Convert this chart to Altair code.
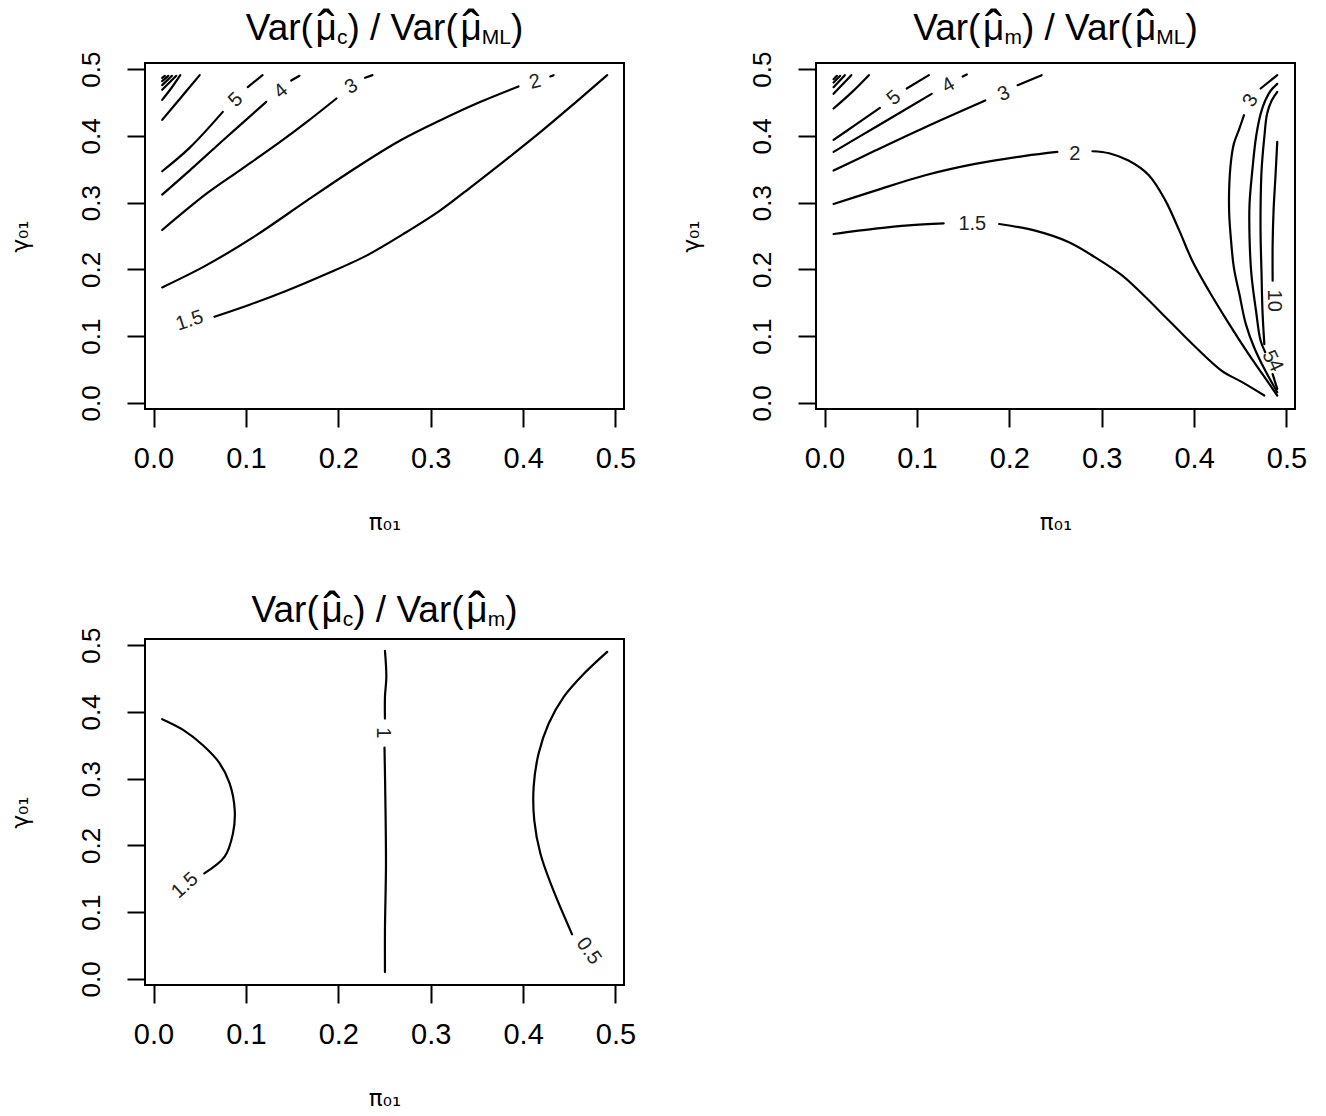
import altair as alt
import pandas as pd

# ---------------- shared axis definitions ----------------
TICK_VALUES = [0.0, 0.1, 0.2, 0.3, 0.4, 0.5]
AXIS_DOMAIN = [-0.0092, 0.5092]
X_TITLE = "π₀₁"
Y_TITLE = "γ₀₁"

FONT = "Liberation Sans, Arial, Helvetica, sans-serif"
AXT_FONT = "DejaVu Sans, Liberation Sans, sans-serif"
LABEL_FONT = "Liberation Sans, Arial, sans-serif"

PW, PH = 479, 346

# ---------------- Panel 1: Var(mu_c) / Var(mu_ML) ----------------
p1_c15_x = [0.066, 0.104, 0.144, 0.187, 0.231, 0.274, 0.310, 0.346, 0.383, 0.419, 0.455, 0.491]
p1_c15_y = [0.129, 0.147, 0.168, 0.193, 0.221, 0.256, 0.288, 0.326, 0.366, 0.406, 0.448, 0.491]
p1_c2a_x = [0.0094, 0.057, 0.111, 0.166, 0.220, 0.267, 0.310, 0.354, 0.395]
p1_c2a_y = [0.173, 0.206, 0.251, 0.303, 0.353, 0.393, 0.423, 0.451, 0.474]
p1_c2b_x = [0.4295, 0.433]
p1_c2b_y = [0.489, 0.491]
p1_c3a_x = [0.0094, 0.057, 0.093, 0.137, 0.166, 0.198]
p1_c3a_y = [0.259, 0.313, 0.348, 0.391, 0.421, 0.456]
p1_c3b_x = [0.229, 0.237]
p1_c3b_y = [0.487, 0.491]
p1_c4a_x = [0.0094, 0.039, 0.075, 0.122]
p1_c4a_y = [0.312, 0.348, 0.393, 0.451]
p1_c4b_x = [0.149, 0.158]
p1_c4b_y = [0.483, 0.490]
p1_c5a_x = [0.0094, 0.039, 0.075]
p1_c5a_y = [0.347, 0.382, 0.436]
p1_c5b_x = [0.102, 0.118]
p1_c5b_y = [0.473, 0.491]
p1_c6_x = [0.0094, 0.030, 0.050]
p1_c6_y = [0.424, 0.458, 0.491]
p1_c7_x = [0.0094, 0.019, 0.029]
p1_c7_y = [0.454, 0.471, 0.491]
p1_c8_x = [0.0094, 0.0246]
p1_c8_y = [0.469, 0.490]
p1_c9_x = [0.0094, 0.020]
p1_c9_y = [0.476, 0.490]
p1_c10_x = [0.0094, 0.016]
p1_c10_y = [0.482, 0.490]
p1_c11_x = [0.0094, 0.0123]
p1_c11_y = [0.487, 0.490]

p1_lab_text = ["1.5", "2", "3", "4", "5"]
p1_lab_x = [0.039, 0.413, 0.214, 0.138, 0.089]
p1_lab_y = [0.123, 0.481, 0.474, 0.467, 0.454]
p1_lab_angle = [342, 345, 330, 320, 315]

# ---------------- Panel 2: Var(mu_m) / Var(mu_ML) ----------------
p2_c15a_x = [0.0098, 0.055, 0.091, 0.129]
p2_c15a_y = [0.253, 0.261, 0.266, 0.269]
p2_c15b_x = [0.189, 0.228, 0.264, 0.293, 0.322, 0.344, 0.373, 0.402, 0.430, 0.452, 0.476]
p2_c15b_y = [0.268, 0.258, 0.241, 0.218, 0.191, 0.163, 0.123, 0.083, 0.048, 0.031, 0.011]
p2_c2a_x = [0.0098, 0.055, 0.109, 0.163, 0.217, 0.252]
p2_c2a_y = [0.298, 0.318, 0.341, 0.358, 0.370, 0.376]
p2_c2b_x = [0.290, 0.308, 0.329, 0.351, 0.369, 0.384, 0.398, 0.416, 0.438, 0.459, 0.474, 0.490]
p2_c2b_y = [0.377, 0.374, 0.363, 0.341, 0.303, 0.258, 0.213, 0.168, 0.118, 0.073, 0.043, 0.011]
p2_c3a_x = [0.0098, 0.055, 0.109, 0.174]
p2_c3a_y = [0.348, 0.378, 0.413, 0.453]
p2_c3b_x = [0.209, 0.235]
p2_c3b_y = [0.476, 0.491]
p2_c4a_x = [0.0098, 0.055, 0.116]
p2_c4a_y = [0.376, 0.413, 0.463]
p2_c4b_x = [0.1495, 0.154]
p2_c4b_y = [0.489, 0.492]
p2_c5a_x = [0.0098, 0.033, 0.060]
p2_c5a_y = [0.394, 0.416, 0.442]
p2_c5b_x = [0.089, 0.113]
p2_c5b_y = [0.471, 0.491]
p2_c6_x = [0.0098, 0.030, 0.048]
p2_c6_y = [0.441, 0.466, 0.491]
p2_c7_x = [0.0098, 0.029]
p2_c7_y = [0.463, 0.491]
p2_c8_x = [0.0098, 0.022]
p2_c8_y = [0.473, 0.491]
p2_c9_x = [0.0098, 0.017]
p2_c9_y = [0.480, 0.490]
p2_c10h_x = [0.0098, 0.0134]
p2_c10h_y = [0.485, 0.490]
p2_r3a_x = [0.472, 0.490]
p2_r3a_y = [0.471, 0.491]
p2_r3b_x = [0.454, 0.449, 0.443, 0.440, 0.438, 0.438, 0.440, 0.443, 0.449, 0.456, 0.465, 0.476, 0.490]
p2_r3b_y = [0.431, 0.411, 0.388, 0.363, 0.323, 0.283, 0.243, 0.203, 0.163, 0.118, 0.083, 0.051, 0.016]
p2_r4_x = [0.490, 0.483, 0.477, 0.472, 0.467, 0.463, 0.460, 0.460, 0.462, 0.467, 0.472, 0.477]
p2_r4_y = [0.478, 0.468, 0.453, 0.433, 0.398, 0.348, 0.298, 0.248, 0.193, 0.138, 0.093, 0.076]
p2_r5_x = [0.490, 0.484, 0.479, 0.476, 0.473, 0.472, 0.472, 0.473, 0.474, 0.476]
p2_r5_y = [0.466, 0.453, 0.433, 0.398, 0.348, 0.298, 0.248, 0.193, 0.138, 0.088]
p2_r45b_x = [0.485, 0.490]
p2_r45b_y = [0.043, 0.021]
p2_r10_x = [0.490, 0.488, 0.486, 0.485, 0.485]
p2_r10_y = [0.391, 0.338, 0.288, 0.238, 0.183]

p2_lab_text = ["1.5", "2", "3", "4", "5", "3", "10", "5", "4"]
p2_lab_x = [0.160, 0.271, 0.194, 0.134, 0.075, 0.461, 0.4865, 0.482, 0.488]
p2_lab_y = [0.268, 0.373, 0.463, 0.476, 0.457, 0.453, 0.153, 0.0695, 0.056]
p2_lab_angle = [0, 0, 337, 330, 320, 300, 90, 65, 65]

# ---------------- Panel 3: Var(mu_c) / Var(mu_m) ----------------
p3_c15_x = [0.0094, 0.032, 0.0535, 0.0716, 0.0824, 0.0879, 0.086, 0.077, 0.055]
p3_c15_y = [0.389, 0.373, 0.350, 0.323, 0.293, 0.253, 0.218, 0.183, 0.158]
p3_c1a_x = [0.2505, 0.252, 0.2505, 0.2505]
p3_c1a_y = [0.4915, 0.4525, 0.4226, 0.390]
p3_c1b_x = [0.250, 0.2509, 0.2516, 0.2505, 0.2505]
p3_c1b_y = [0.3466, 0.2726, 0.1727, 0.0727, 0.0102]
p3_c05_x = [0.491, 0.466, 0.444, 0.4277, 0.4168, 0.4114, 0.4121, 0.4187, 0.4313, 0.453]
p3_c05_y = [0.490, 0.4575, 0.4225, 0.3826, 0.3376, 0.2876, 0.2376, 0.1877, 0.1377, 0.0667]

p3_lab_text = ["1.5", "1", "0.5"]
p3_lab_x = [0.034, 0.248, 0.471]
p3_lab_y = [0.140, 0.3686, 0.0417]
p3_lab_angle = [318, 90, 55]

# ---------------- titles: (text, role) with role main / hat / sub ----------------
p1_title = [("Var(", "main"), ("μ", "hat"), ("c", "sub"), (") / Var(", "main"), ("μ", "hat"), ("ML", "sub"), (")", "main")]
p2_title = [("Var(", "main"), ("μ", "hat"), ("m", "sub"), (") / Var(", "main"), ("μ", "hat"), ("ML", "sub"), (")", "main")]
p3_title = [("Var(", "main"), ("μ", "hat"), ("c", "sub"), (") / Var(", "main"), ("μ", "hat"), ("m", "sub"), (")", "main")]

TITLE_SIZE = 37
SUB_SIZE = 21
SUB_DROP = 4
HAT_CHAR = "ˆ"
HAT_SIZE = 52
HAT_DROP = 7

# advance widths (1/1000 em) of Arial / Liberation Sans metrics, for centring pieces
ARIAL_W = {"V": 667, "a": 556, "r": 333, "(": 333, ")": 333, " ": 278, "/": 278,
           "μ": 576, "c": 500, "m": 833, "M": 833, "L": 556}


def text_width(s, size):
    return sum(ARIAL_W.get(ch, 556) for ch in s) * size / 1000.0


def one_text(t, x, y, size, align="left"):
    return (
        alt.Chart(pd.DataFrame({"t": [t]}))
        .mark_text(align=align, baseline="alphabetic", font=FONT, fontSize=size, color="black")
        .encode(x=alt.value(x), y=alt.value(y), text="t:N")
    )


def title_layers(pieces, center_x, base_y):
    sizes = [SUB_SIZE if role == "sub" else TITLE_SIZE for _, role in pieces]
    total = sum(text_width(t, s) for (t, _), s in zip(pieces, sizes))
    x = center_x - total / 2.0
    layers = []
    for (t, role), s in zip(pieces, sizes):
        w = text_width(t, s)
        y = base_y + (SUB_DROP if role == "sub" else 0)
        layers.append(one_text(t, x, y, s))
        if role == "hat":
            layers.append(one_text(HAT_CHAR, x + w / 2.0, base_y + HAT_DROP, HAT_SIZE, align="center"))
        x += w
    return layers


def make_panel(segments, lab_t, lab_x, lab_y, lab_a, pieces, title_base):
    rows = []
    for k, (xs, ys) in enumerate(segments):
        for i, (xv, yv) in enumerate(zip(xs, ys)):
            rows.append({"seg": k, "i": i, "x": xv, "y": yv})
    line_df = pd.DataFrame(rows)
    lab_df = pd.DataFrame({"t": lab_t, "x": lab_x, "y": lab_y, "a": lab_a})

    xscale = alt.Scale(domain=AXIS_DOMAIN, nice=False, zero=False)
    yscale = alt.Scale(domain=AXIS_DOMAIN, nice=False, zero=False)
    x_axis = alt.Axis(
        values=TICK_VALUES, format=".1f", title=X_TITLE, grid=False, domain=False,
        tickSize=18, tickWidth=2, tickColor="black",
        labelFont=FONT, labelFontSize=29, labelColor="black", labelBaseline="alphabetic",
        labelPadding=40, labelFlush=False, labelOverlap=False,
        titleFont=AXT_FONT, titleFontSize=23, titleFontWeight="normal", titleColor="black",
        titleX=PW / 2, titleY=113, titleAlign="center", titleBaseline="middle",
    )
    y_axis = alt.Axis(
        values=TICK_VALUES, format=".1f", title=Y_TITLE, grid=False, domain=False,
        tickSize=18, tickWidth=2, tickColor="black",
        labelFont=FONT, labelFontSize=26, labelColor="black", labelAngle=270,
        labelAlign="center", labelBaseline="alphabetic", labelPadding=28,
        labelFlush=False, labelOverlap=False,
        titleFont=AXT_FONT, titleFontSize=23, titleFontWeight="normal", titleColor="black",
        titleAngle=270, titleX=-125, titleY=PH / 2, titleAlign="center", titleBaseline="middle",
    )

    lines = alt.Chart(line_df).mark_line(
        color="black", strokeWidth=2.2, strokeCap="round", strokeJoin="round",
        interpolate="catmull-rom",
    ).encode(
        x=alt.X("x:Q", scale=xscale, axis=x_axis),
        y=alt.Y("y:Q", scale=yscale, axis=y_axis),
        detail="seg:N",
        order="i:Q",
    )
    labels = alt.Chart(lab_df).mark_text(
        font=LABEL_FONT, fontSize=20, color="#222222"
    ).encode(
        x=alt.X("x:Q", scale=xscale),
        y=alt.Y("y:Q", scale=yscale),
        text="t:N",
        angle=alt.Angle("a:Q", scale=None),
    )
    layers = [lines, labels] + title_layers(pieces, PW / 2, title_base)
    return alt.layer(*layers).properties(width=PW, height=PH)


p1_segments = [
    (p1_c15_x, p1_c15_y), (p1_c2a_x, p1_c2a_y), (p1_c2b_x, p1_c2b_y),
    (p1_c3a_x, p1_c3a_y), (p1_c3b_x, p1_c3b_y), (p1_c4a_x, p1_c4a_y), (p1_c4b_x, p1_c4b_y),
    (p1_c5a_x, p1_c5a_y), (p1_c5b_x, p1_c5b_y), (p1_c6_x, p1_c6_y), (p1_c7_x, p1_c7_y),
    (p1_c8_x, p1_c8_y), (p1_c9_x, p1_c9_y), (p1_c10_x, p1_c10_y), (p1_c11_x, p1_c11_y),
]
p2_segments = [
    (p2_c15a_x, p2_c15a_y), (p2_c15b_x, p2_c15b_y), (p2_c2a_x, p2_c2a_y), (p2_c2b_x, p2_c2b_y),
    (p2_c3a_x, p2_c3a_y), (p2_c3b_x, p2_c3b_y), (p2_c4a_x, p2_c4a_y), (p2_c4b_x, p2_c4b_y),
    (p2_c5a_x, p2_c5a_y), (p2_c5b_x, p2_c5b_y), (p2_c6_x, p2_c6_y), (p2_c7_x, p2_c7_y),
    (p2_c8_x, p2_c8_y), (p2_c9_x, p2_c9_y), (p2_c10h_x, p2_c10h_y),
    (p2_r3a_x, p2_r3a_y), (p2_r3b_x, p2_r3b_y), (p2_r4_x, p2_r4_y), (p2_r5_x, p2_r5_y),
    (p2_r45b_x, p2_r45b_y), (p2_r10_x, p2_r10_y),
]
p3_segments = [
    (p3_c15_x, p3_c15_y), (p3_c1a_x, p3_c1a_y), (p3_c1b_x, p3_c1b_y), (p3_c05_x, p3_c05_y),
]

panel1 = make_panel(p1_segments, p1_lab_text, p1_lab_x, p1_lab_y, p1_lab_angle, p1_title, -22.7)
panel2 = make_panel(p2_segments, p2_lab_text, p2_lab_x, p2_lab_y, p2_lab_angle, p2_title, -22.7)
panel3 = make_panel(p3_segments, p3_lab_text, p3_lab_x, p3_lab_y, p3_lab_angle, p3_title, -17.5)

chart = alt.concat(
    panel1, panel2, panel3, columns=2,
    spacing={"row": 230, "column": 192}, bounds="flush",
).properties(
    padding={"left": 0, "top": -4, "right": 5, "bottom": 5},
    background="white",
).configure_view(stroke="black", strokeWidth=2)

chart.save("out.html", embed_options={"renderer": "svg", "actions": False})
